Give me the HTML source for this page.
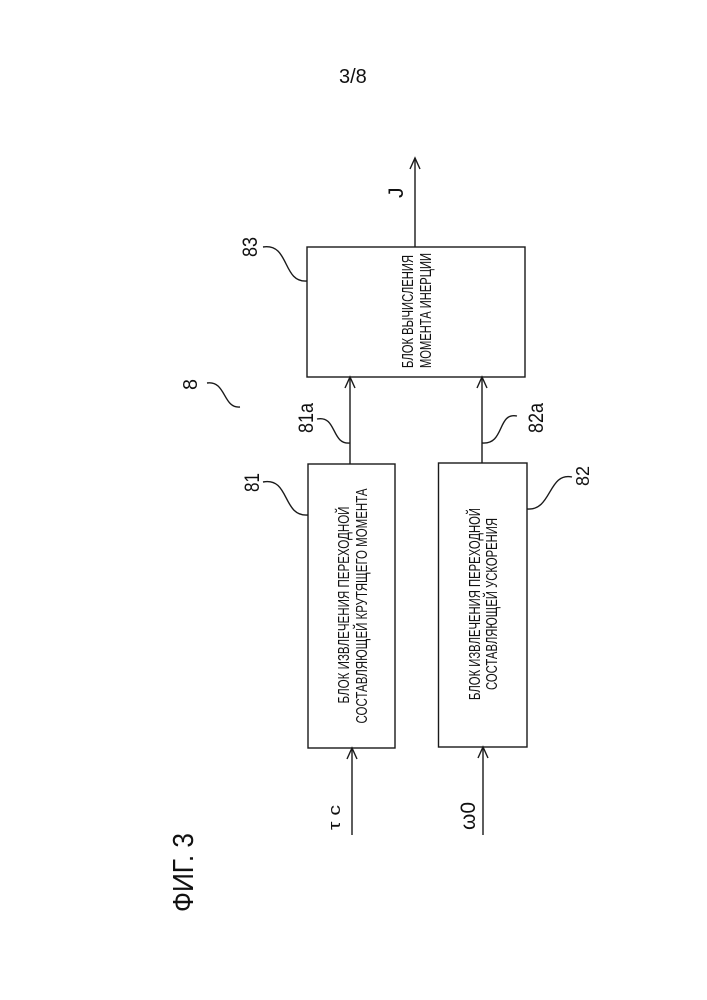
<!DOCTYPE html>
<html>
<head>
<meta charset="utf-8">
<style>
  html,body{margin:0;padding:0;background:#fff;}
  svg{display:block;}
  text{font-family:"Liberation Sans","DejaVu Sans",sans-serif;fill:#111;}
</style>
</head>
<body>
<svg width="707" height="1000" viewBox="0 0 707 1000" xmlns="http://www.w3.org/2000/svg">
  <rect x="0" y="0" width="707" height="1000" fill="#fff"/>

  <!-- page number -->
  <text x="339" y="83" font-size="20">3/8</text>

  <g fill="none" stroke="#1a1a1a" stroke-width="1.4">
    <!-- boxes -->
    <rect x="307" y="247" width="218" height="130"/>
    <rect x="308" y="464" width="87" height="284"/>
    <rect x="438.5" y="463" width="88.5" height="284"/>

    <!-- output J arrow -->
    <line x1="415" y1="247" x2="415" y2="158"/>
    <polyline points="410,169 415,158 420,169"/>

    <!-- 81a arrow -->
    <line x1="350" y1="464" x2="350" y2="377"/>
    <polyline points="345,388 350,377 355,388"/>

    <!-- 82a arrow -->
    <line x1="482" y1="463" x2="482" y2="377"/>
    <polyline points="477,388 482,377 487,388"/>

    <!-- tau c input -->
    <line x1="352" y1="835" x2="352" y2="748"/>
    <polyline points="347,759 352,748 357,759"/>

    <!-- omega0 input -->
    <line x1="483" y1="835" x2="483" y2="747"/>
    <polyline points="478,758 483,747 488,758"/>

    <!-- leader curves -->
    <path d="M263,247 C290,243 282,283 307,281"/>
    <path d="M207,383 C226,380 223,409 240,407"/>
    <path d="M263,482 C290,477 282,517 308,515"/>
    <path d="M317,419 C337,415 331,445 350,443"/>
    <path d="M517,416 C497,412 505,445 482,443"/>
    <path d="M572,477 C548,472 552,511 527,509"/>
  </g>

  <!-- box 83 text -->
  <text transform="translate(413,368) rotate(-90)" font-size="16" textLength="113" lengthAdjust="spacingAndGlyphs">БЛОК ВЫЧИСЛЕНИЯ</text>
  <text transform="translate(431,368) rotate(-90)" font-size="16" textLength="115" lengthAdjust="spacingAndGlyphs">МОМЕНТА ИНЕРЦИИ</text>

  <!-- box 81 text -->
  <text transform="translate(349,605) rotate(-90)" font-size="16" text-anchor="middle" textLength="197" lengthAdjust="spacingAndGlyphs">БЛОК ИЗВЛЕЧЕНИЯ ПЕРЕХОДНОЙ</text>
  <text transform="translate(367,606) rotate(-90)" font-size="16" text-anchor="middle" textLength="235" lengthAdjust="spacingAndGlyphs">СОСТАВЛЯЮЩЕЙ КРУТЯЩЕГО МОМЕНТА</text>

  <!-- box 82 text -->
  <text transform="translate(480,604) rotate(-90)" font-size="16" text-anchor="middle" textLength="192" lengthAdjust="spacingAndGlyphs">БЛОК ИЗВЛЕЧЕНИЯ ПЕРЕХОДНОЙ</text>
  <text transform="translate(497,604) rotate(-90)" font-size="16" text-anchor="middle" textLength="172" lengthAdjust="spacingAndGlyphs">СОСТАВЛЯЮЩЕЙ УСКОРЕНИЯ</text>

  <!-- reference labels -->
  <text transform="translate(257,257) rotate(-90)" font-size="21" textLength="20" lengthAdjust="spacingAndGlyphs">83</text>
  <text transform="translate(197,390) rotate(-90)" font-size="20" textLength="11" lengthAdjust="spacingAndGlyphs">8</text>
  <text transform="translate(259,492) rotate(-90)" font-size="21" textLength="19" lengthAdjust="spacingAndGlyphs">81</text>
  <text transform="translate(313,433) rotate(-90)" font-size="21" textLength="30" lengthAdjust="spacingAndGlyphs">81a</text>
  <text transform="translate(543,433) rotate(-90)" font-size="21" textLength="30" lengthAdjust="spacingAndGlyphs">82a</text>
  <text transform="translate(589,486) rotate(-90)" font-size="18" textLength="20" lengthAdjust="spacingAndGlyphs">82</text>

  <!-- signal labels -->
  <text transform="translate(403,198) rotate(-90)" font-size="21">J</text>
  <text transform="translate(340,830) rotate(-90)" font-size="17" textLength="25" lengthAdjust="spacingAndGlyphs">τ c</text>
  <text transform="translate(475,830) rotate(-90)" font-size="21" textLength="28" lengthAdjust="spacingAndGlyphs">ω0</text>

  <!-- figure caption -->
  <text transform="translate(193,912) rotate(-90)" font-size="29" textLength="79" lengthAdjust="spacingAndGlyphs">ФИГ. 3</text>
</svg>
</body>
</html>
